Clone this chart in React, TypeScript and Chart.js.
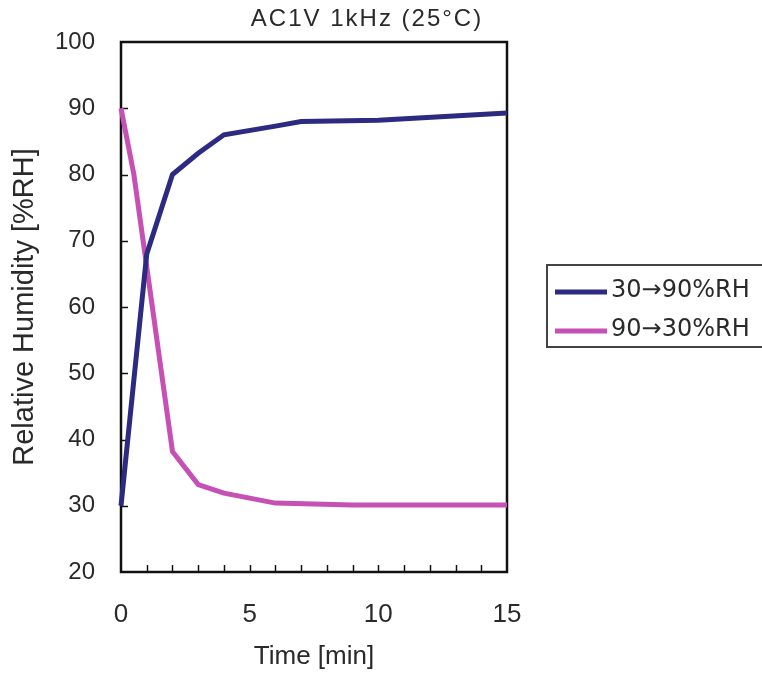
import React, { useEffect, useRef } from "react";
import { Chart, registerables } from "chart.js";

Chart.register(...registerables);

const chartTitle = "AC1V 1kHz (25°C)";
const xAxisTitle = "Time [min]";
const yAxisTitle = "Relative Humidity [%RH]";

const riseLabel = "30→90%RH";
const riseTimes = [0, 1, 2, 3, 4, 6, 7, 10, 15];
const riseValues = [30, 68, 80, 83.2, 86, 87.3, 88, 88.2, 89.3];

const fallLabel = "90→30%RH";
const fallTimes = [0, 0.5, 2, 3, 4, 6, 9, 15];
const fallValues = [90, 80, 38.2, 33.2, 31.9, 30.4, 30.1, 30.1];

const xMin = 0;
const xMax = 15;
const xLabelStep = 5;
const xMinorStep = 1;
const yMin = 20;
const yMax = 100;
const yStep = 10;

const BLUE = "#2d2a82";
const PINK = "#c650b4";
const TEXT = "#2a2a2a";
const FONT = "'Liberation Sans', Arial, sans-serif";
const LEGEND_FONT = "'DejaVu Sans', sans-serif";

const framePlugin = {
  id: "frameAndExtras",
  beforeDatasetsDraw(chart: any) {
    const { ctx, chartArea } = chart;
    const { left, right, top, bottom } = chartArea;
    const xs = chart.scales.x;
    const ys = chart.scales.y;
    ctx.save();
    ctx.strokeStyle = "#111";
    ctx.lineWidth = 1.5;
    for (let v = xMin + xMinorStep; v < xMax; v += xMinorStep) {
      const px = Math.round(xs.getPixelForValue(v)) + 0.5;
      ctx.beginPath();
      ctx.moveTo(px, bottom);
      ctx.lineTo(px, bottom - 7);
      ctx.stroke();
    }
    for (let v = yMin + yStep; v < yMax; v += yStep) {
      const py = Math.round(ys.getPixelForValue(v)) + 0.5;
      ctx.beginPath();
      ctx.moveTo(left, py);
      ctx.lineTo(left + 7, py);
      ctx.stroke();
    }
    ctx.lineWidth = 2.5;
    ctx.strokeStyle = "#111";
    ctx.strokeRect(left, top, right - left, bottom - top);
    ctx.restore();
  },
  afterDraw(chart: any) {
    const { ctx } = chart;
    ctx.save();
    ctx.fillStyle = TEXT;
    ctx.font = `24px ${FONT}`;
    ctx.textAlign = "center";
    ctx.textBaseline = "middle";
    try {
      (ctx as any).letterSpacing = "2px";
    } catch (e) {}
    ctx.fillText(chartTitle, 367, 19);
    try {
      (ctx as any).letterSpacing = "0px";
    } catch (e) {}

    ctx.strokeStyle = "#444";
    ctx.lineWidth = 2;
    ctx.strokeRect(547, 265, 240, 82);
    const rows = [292, 331];
    chart.data.datasets.forEach((ds: any, i: number) => {
      const y = rows[i];
      ctx.strokeStyle = ds.borderColor;
      ctx.lineWidth = 5;
      ctx.beginPath();
      ctx.moveTo(555, y);
      ctx.lineTo(607, y);
      ctx.stroke();
      ctx.fillStyle = TEXT;
      ctx.font = `24px ${LEGEND_FONT}`;
      ctx.textAlign = "left";
      ctx.textBaseline = "middle";
      ctx.fillText(ds.label, 611, y - 1);
    });
    ctx.restore();
  },
};

export default function App() {
  const canvasRef = useRef<HTMLCanvasElement | null>(null);

  useEffect(() => {
    if (!canvasRef.current) return;
    const chart = new Chart(canvasRef.current, {
      type: "line",
      data: {
        datasets: [
          {
            label: riseLabel,
            data: riseTimes.map((t, i) => ({ x: t, y: riseValues[i] })),
            borderColor: BLUE,
            backgroundColor: BLUE,
            borderWidth: 5,
            pointRadius: 0,
            tension: 0,
            clip: false as any,
          },
          {
            label: fallLabel,
            data: fallTimes.map((t, i) => ({ x: t, y: fallValues[i] })),
            borderColor: PINK,
            backgroundColor: PINK,
            borderWidth: 5,
            pointRadius: 0,
            tension: 0,
            clip: false as any,
          },
        ],
      },
      options: {
        responsive: false,
        animation: false,
        devicePixelRatio: 1,
        layout: { padding: { top: 42, right: 255, left: 0, bottom: 0 } },
        plugins: {
          legend: { display: false },
          title: { display: false },
          tooltip: { enabled: false },
        },
        scales: {
          x: {
            type: "linear",
            min: xMin,
            max: xMax,
            grid: { display: false, drawTicks: false },
            border: { display: false },
            ticks: {
              stepSize: xLabelStep,
              padding: 27,
              color: TEXT,
              font: { family: FONT, size: 26 },
            },
            title: {
              display: true,
              text: xAxisTitle,
              color: TEXT,
              font: { family: FONT, size: 26 },
              padding: { top: 0, bottom: 5 },
            },
            afterFit: (s: any) => {
              s.height = 105;
            },
          },
          y: {
            type: "linear",
            min: yMin,
            max: yMax,
            grid: { display: false, drawTicks: false },
            border: { display: false },
            ticks: {
              stepSize: yStep,
              padding: 26,
              color: TEXT,
              font: { family: FONT, size: 24 },
            },
            title: {
              display: true,
              text: yAxisTitle,
              color: TEXT,
              font: { family: FONT, size: 29 },
              padding: { top: 8, bottom: 0 },
            },
            afterFit: (s: any) => {
              s.width = 121;
            },
          },
        },
      },
      plugins: [framePlugin],
    } as any);
    return () => chart.destroy();
  }, []);

  return (
    <div style={{ position: "absolute", left: 0, top: 0, width: 762, height: 677, background: "#fff", overflow: "hidden" }}>
      <canvas ref={canvasRef} width={762} height={677} style={{ display: "block" }} />
    </div>
  );
}
